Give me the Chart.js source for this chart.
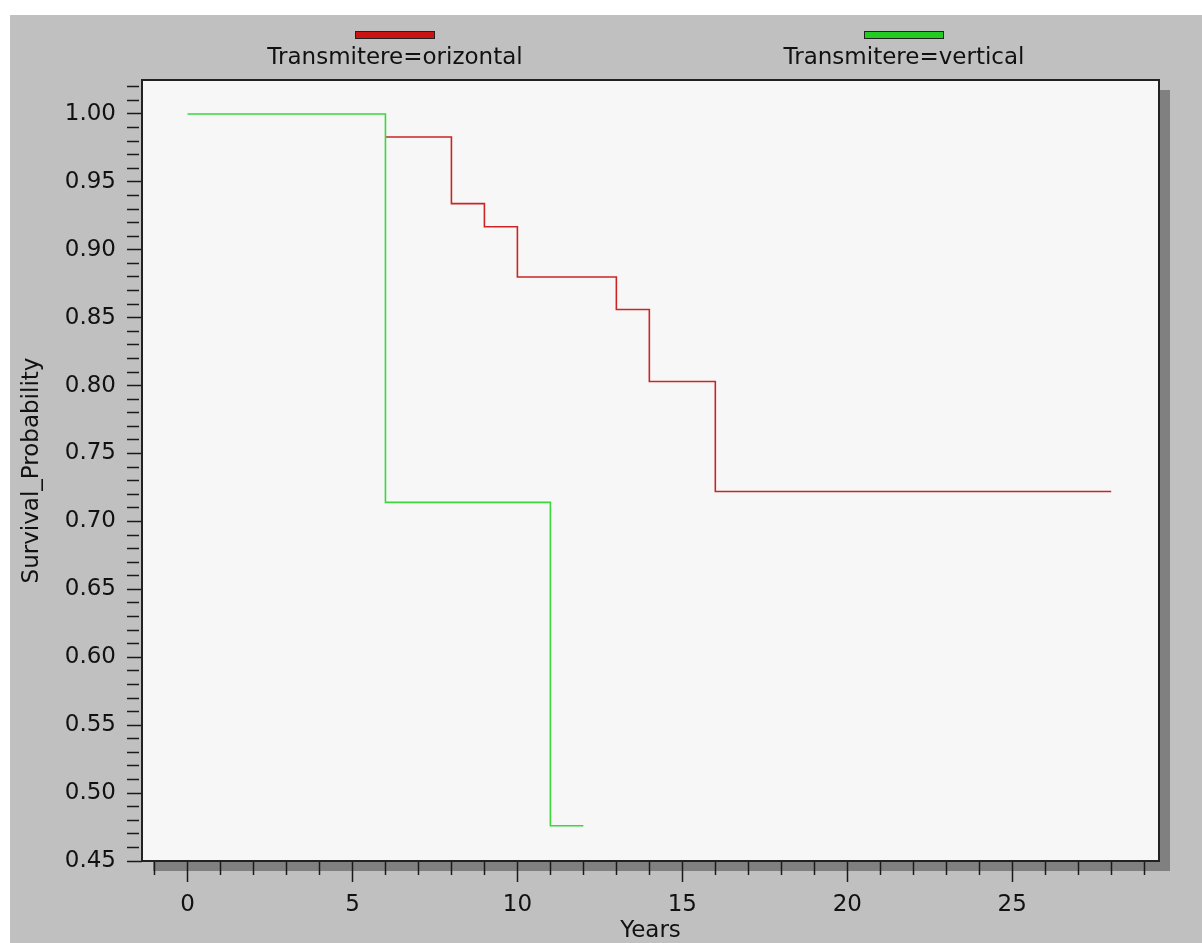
<!DOCTYPE html>
<html>
<head>
<meta charset="utf-8">
<title>Survival by Transmitere</title>
<script src="https://cdn.jsdelivr.net/npm/chart.js@4"></script>
<style>
  html, body { margin: 0; padding: 0; background: #ffffff; }
  canvas { display: block; }
</style>
</head>
<body>
<canvas id="survivalChart" width="1202" height="943"></canvas>
<script>
// Kaplan-Meier steps
const orizontalYears = [0, 6, 8, 9, 10, 13, 14, 16, 28];
const orizontalSurv = [1.0, 0.983, 0.934, 0.917, 0.880, 0.856, 0.803, 0.722, 0.722];
const verticalYears = [0, 6, 11, 12];
const verticalSurv = [1.0, 0.714, 0.476, 0.476];

const seriesLabels = ["Transmitere=orizontal", "Transmitere=vertical"];

const xTickValues = [-1, 0, 1, 2, 3, 4, 5, 6, 7, 8, 9, 10, 11, 12, 13, 14, 15, 16, 17, 18, 19, 20, 21, 22, 23, 24, 25, 26, 27, 28, 29];
const xTickLabels = [0, 5, 10, 15, 20, 25];
const yTickValues = [];
for (let i = 45; i <= 102; i++) yTickValues.push(i / 100);
const yTickLabels = ["0.45", "0.50", "0.55", "0.60", "0.65", "0.70", "0.75", "0.80", "0.85", "0.90", "0.95", "1.00"];

const FONT = "'DejaVu Sans', 'Liberation Sans', Arial, sans-serif";
const TEXT = "#111111";

function toPoints(xs, ys) {
  return xs.map((x, i) => ({ x, y: ys[i] }));
}

function isMajorY(v) {
  return yTickLabels.includes(v.toFixed(2));
}

// grey panel, drop shadow and plot background
const backdrop = {
  id: "backdrop",
  beforeDraw(chart) {
    const { ctx, chartArea: a } = chart;
    ctx.save();
    ctx.fillStyle = "#ffffff";
    ctx.fillRect(0, 0, chart.width, chart.height);
    ctx.fillStyle = "#c0c0c0";
    ctx.fillRect(10, 15, chart.width - 10, chart.height - 15);
    ctx.fillStyle = "#808080";
    ctx.fillRect(a.left + 11, a.top + 10, a.right - a.left, a.bottom - a.top);
    ctx.fillStyle = "#f7f7f7";
    ctx.fillRect(a.left, a.top, a.right - a.left, a.bottom - a.top);
    ctx.restore();
  },
  afterDraw(chart) {
    const { ctx, chartArea: a } = chart;
    ctx.save();
    ctx.strokeStyle = "#222222";
    ctx.lineWidth = 2;
    ctx.strokeRect(a.left, a.top, a.right - a.left, a.bottom - a.top);
    ctx.restore();
  }
};

// legend: colour bar above each label, spread over the top
const topLegend = {
  id: "topLegend",
  afterDraw(chart) {
    const { ctx } = chart;
    const centers = [395, 904];
    const fills = ["#cc1414", "#22cc22"];
    ctx.save();
    chart.data.datasets.forEach((ds, i) => {
      const cx = centers[i];
      ctx.fillStyle = fills[i];
      ctx.fillRect(cx - 40, 31, 80, 8);
      ctx.strokeStyle = "#222222";
      ctx.lineWidth = 1;
      ctx.strokeRect(cx - 40 + 0.5, 31.5, 79, 7);
      ctx.fillStyle = TEXT;
      ctx.font = "23px " + FONT;
      ctx.textAlign = "center";
      ctx.textBaseline = "middle";
      ctx.fillText(ds.label, cx, 58);
    });
    ctx.restore();
  }
};

new Chart(document.getElementById("survivalChart"), {
  type: "line",
  data: {
    datasets: [
      {
        label: seriesLabels[0],
        data: toPoints(orizontalYears, orizontalSurv),
        borderColor: "#cc2424",
        borderWidth: 1.6,
        stepped: "before",
        pointRadius: 0,
        fill: false,
        order: 1,
        // first step sits under the green line, keep it from tinting it
        segment: { borderColor: (ctx) => ctx.p0DataIndex === 0 ? "rgba(0,0,0,0)" : undefined }
      },
      {
        label: seriesLabels[1],
        data: toPoints(verticalYears, verticalSurv),
        borderColor: "#3ad83a",
        borderWidth: 1.6,
        stepped: "before",
        pointRadius: 0,
        fill: false,
        order: 0
      }
    ]
  },
  options: {
    responsive: false,
    animation: false,
    devicePixelRatio: 1,
    layout: { padding: { top: 80, right: 43, left: 0, bottom: 0 } },
    plugins: {
      legend: { display: false },
      tooltip: { enabled: false }
    },
    scales: {
      x: {
        type: "linear",
        min: -1.38,
        max: 29.45,
        afterBuildTicks: (scale) => { scale.ticks = xTickValues.map(v => ({ value: v })); },
        afterFit: (scale) => { scale.height = 82; },
        border: { display: false },
        grid: {
          drawOnChartArea: false,
          drawTicks: true,
          tickLength: 21,
          tickColor: "#1a1a1a",
          tickWidth: 1.5,
          tickBorderDash: (ctx) => (ctx.tick && xTickLabels.includes(ctx.tick.value)) ? [] : [14, 60]
        },
        ticks: {
          autoSkip: false,
          maxRotation: 0,
          padding: 12,
          color: TEXT,
          font: { family: FONT, size: 23, lineHeight: 1 },
          callback: (v) => xTickLabels.includes(v) ? String(v) : ""
        },
        title: {
          display: true,
          text: "Years",
          color: TEXT,
          padding: { top: 0, bottom: 0 },
          font: { family: FONT, size: 23, lineHeight: 1 }
        }
      },
      y: {
        type: "linear",
        min: 0.45,
        max: 1.025,
        afterBuildTicks: (scale) => { scale.ticks = yTickValues.map(v => ({ value: v })); },
        afterFit: (scale) => { scale.width = 142; },
        border: { display: false },
        grid: {
          drawOnChartArea: false,
          drawTicks: true,
          tickLength: 15,
          tickColor: "#1a1a1a",
          tickWidth: 1.5,
          tickBorderDash: (ctx) => (ctx.tick && isMajorY(ctx.tick.value)) ? [] : [12, 60]
        },
        ticks: {
          autoSkip: false,
          padding: 11,
          color: TEXT,
          font: { family: FONT, size: 23, lineHeight: 1 },
          callback: (v) => isMajorY(v) ? v.toFixed(2) : ""
        },
        title: {
          display: true,
          text: "Survival_Probability",
          color: TEXT,
          padding: { top: 21, bottom: 0 },
          font: { family: FONT, size: 23, lineHeight: 1 }
        }
      }
    }
  },
  plugins: [backdrop, topLegend]
});
</script>
</body>
</html>
